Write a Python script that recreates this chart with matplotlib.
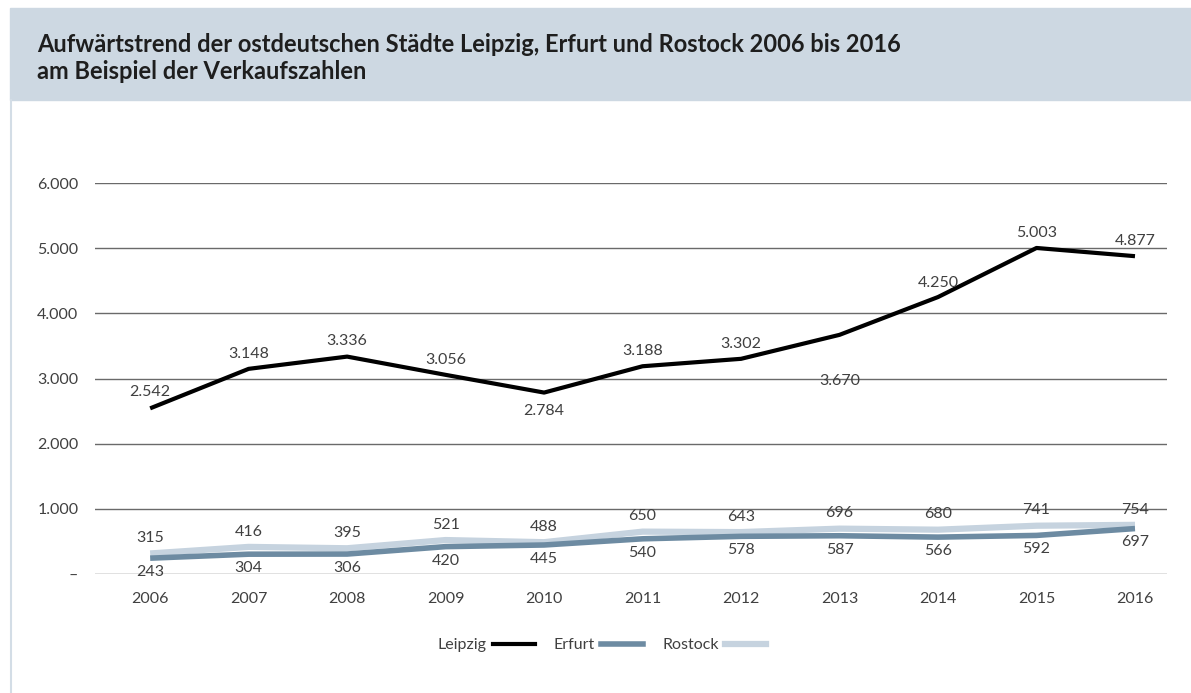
import matplotlib.pyplot as plt
from matplotlib.patches import Rectangle
from matplotlib.lines import Line2D

plt.rcParams['font.family'] = ['Lato', 'DejaVu Sans']

years = [2006, 2007, 2008, 2009, 2010, 2011, 2012, 2013, 2014, 2015, 2016]
leipzig = [2542, 3148, 3336, 3056, 2784, 3188, 3302, 3670, 4250, 5003, 4877]
erfurt = [243, 304, 306, 420, 445, 540, 578, 587, 566, 592, 697]
rostock = [315, 416, 395, 521, 488, 650, 643, 696, 680, 741, 754]

y_ticks = [0, 1000, 2000, 3000, 4000, 5000, 6000]
y_labels = ['–', '1.000', '2.000', '3.000', '4.000', '5.000', '6.000']

title = ("Aufwärtstrend der ostdeutschen Städte Leipzig, Erfurt und Rostock 2006 bis 2016\n"
         "am Beispiel der Verkaufszahlen")

c_leipzig = '#000000'
c_erfurt = '#6d8ba2'
c_rostock = '#c6d3df'
c_text = '#404040'
fs = 11.5


def fmt(v):
    return f"{v:,}".replace(',', '.')


fig = plt.figure(figsize=(11.91, 6.93), dpi=100)
W, H = 1191, 693

# header band and left border
fig.patches.append(Rectangle((10 / W, 1 - 100 / H), 1 - 10 / W, 92 / H,
                             transform=fig.transFigure, color='#cdd8e2', zorder=0))
fig.add_artist(Line2D([10.5 / W, 10.5 / W], [0, 1 - 100 / H], transform=fig.transFigure,
                      color='#d3dde6', lw=1.5))
fig.text(37 / W, 1 - 58 / H, title, fontsize=17, fontweight='bold', color='#1e1e1e',
         va='center', ha='left', linespacing=1.25)

ax = fig.add_axes([95 / W, 1 - 574 / H, (1167 - 95) / W, (574 - 183) / H])
ax.set_xlim(2005.44, 2016.325)
ax.set_ylim(0, 6000)

ax.plot(years, rostock, color=c_rostock, lw=4.5, solid_capstyle='butt', zorder=3)
ax.plot(years, erfurt, color=c_erfurt, lw=4, solid_capstyle='butt', zorder=4)
ax.plot(years, leipzig, color=c_leipzig, lw=3, solid_capstyle='butt', zorder=5)

leipzig_off = [12, 11, 11, 11, -13, 11, 11, -33, 10, 11, 11]
for x, v, o in zip(years, leipzig, leipzig_off):
    ax.annotate(fmt(v), (x, v), xytext=(0, o), textcoords='offset points',
                ha='center', va='center', fontsize=fs, color=c_text, zorder=6)
for x, v in zip(years, rostock):
    ax.annotate(fmt(v), (x, v), xytext=(0, 11), textcoords='offset points',
                ha='center', va='center', fontsize=fs, color=c_text, zorder=6)
for x, v in zip(years, erfurt):
    ax.annotate(fmt(v), (x, v), xytext=(0, -10), textcoords='offset points',
                ha='center', va='center', fontsize=fs, color=c_text, zorder=6)

ax.set_yticks(y_ticks)
ax.set_yticklabels(y_labels)
ax.set_xticks(years)
ax.grid(axis='y', color='#6a6a6a', lw=1)
ax.set_axisbelow(True)
for s in ax.spines.values():
    s.set_visible(False)
ax.tick_params(axis='both', length=0, labelsize=fs, labelcolor=c_text)
ax.tick_params(axis='y', pad=12)
ax.tick_params(axis='x', pad=13)

handles = [Line2D([], [], color=c_leipzig, lw=3),
           Line2D([], [], color=c_erfurt, lw=4),
           Line2D([], [], color=c_rostock, lw=4.5)]
fig.legend(handles, ['Leipzig', 'Erfurt', 'Rostock'], loc='center',
           bbox_to_anchor=(602 / W, 1 - 645 / H), ncol=3, frameon=False,
           markerfirst=False, fontsize=fs, handlelength=2.6, handletextpad=0.4,
           columnspacing=1.2, labelcolor=c_text)

fig.savefig('out.png', dpi=100, facecolor='white')
